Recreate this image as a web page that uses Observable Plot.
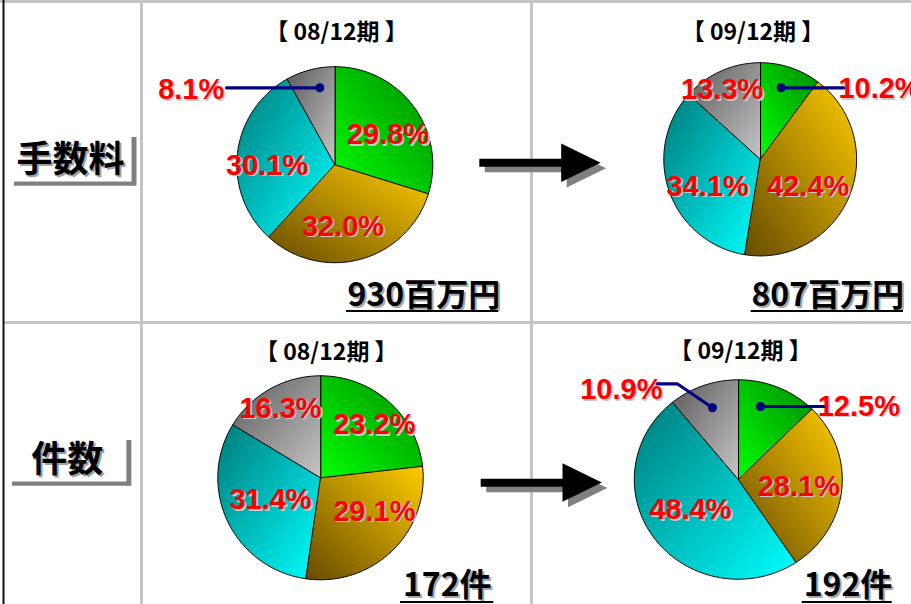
<!DOCTYPE html>
<html><head><meta charset="utf-8">
<script src="https://cdn.jsdelivr.net/npm/d3@7"></script>
<script src="https://cdn.jsdelivr.net/npm/@observablehq/plot@0.6"></script>
<style>html,body{margin:0;padding:0;background:#fff;overflow:hidden}#chart svg{display:block}</style>
</head><body><div id="chart"></div>
<script>
// ---------- data ----------
const rowLabels = ["手数料", "件数"];
const periodLabels = ["【 08/12期 】", "【 09/12期 】"];
const segments = ["s1", "s2", "s3", "s4"];
const feeShare0812 = [29.8, 32.0, 30.1, 8.1];
const feeShare0912 = [10.2, 42.4, 34.1, 13.3];
const countShare0812 = [23.2, 29.1, 31.4, 16.3];
const countShare0912 = [12.5, 28.1, 48.4, 10.9];
const totalValues = [930, 807, 172, 192];
const totalUnits = ["百万円", "百万円", "件", "件"];

// ---------- layout (pixel positions / styles) ----------
const W = 911, H = 604;
const pieLayout = [
  {shares: feeShare0812, row: 0, period: 0, cx: 334.3, cy: 164.2, rx: 98, ry: 98,
   title: [336, 31.7], total: [423.3, 295], underline: [346, 498.3, 310.5],
   labels: [[387.5,134.5],[342.5,225.8],[266.7,165],[190.7,89.3]]},
  {shares: feeShare0912, row: 0, period: 1, cx: 759.7, cy: 158.8, rx: 96.4, ry: 96.6,
   title: [752.5, 31.7], total: [827.2, 295], underline: [750.7, 903, 310.5],
   labels: [[879,88.3],[807.7,185.8],[707.2,185.8],[721.7,89.2]]},
  {shares: countShare0812, row: 1, period: 0, cx: 320, cy: 477.3, rx: 102.7, ry: 102,
   title: [325.8, 351.7], total: [446.7, 585.5], underline: [400, 493.3, 601.5],
   labels: [[373.8,424.2],[373.8,510.8],[270,499.2],[280,408]]},
  {shares: countShare0912, row: 1, period: 1, cx: 737.8, cy: 479, rx: 104, ry: 99.7,
   title: [740, 350.7], total: [847.5, 585.5], underline: [801.7, 891.7, 601.5],
   labels: [[858.3,405.8],[798.3,485.8],[690,509.2],[620.8,389.2]]}
];
const leaderLayout = [
  {pie: 0, pts: [[226,87.3],[319.3,87.3]]},
  {pie: 1, pts: [[843.3,87.3],[780.7,87.3]]},
  {pie: 3, pts: [[823.3,406],[760,406]]},
  {pie: 3, pts: [[656.7,383.3],[676.7,383.3],[712,407.3]]}
];
const rowLayout = [
  {x: 70, y: 159.5, vx: 133.5, vy1: 137, vy2: 185.3, hy: 183.2, hx1: 14, hx2: 136},
  {x: 66.7, y: 460, vx: 128.4, vy1: 440, vy2: 485.3, hy: 483.2, hx1: 12, hx2: 130.7}
];
const arrowLayout = [
  {x1: 479.3, x2: 563, y: 162.2, hx: 580.4, hy: 162.3},
  {x1: 480.7, x2: 564, y: 482.2, hx: 581.7, hy: 482}
];
const segStyle = {
  s1: {from: "#00ff00", to: "#008a00", x1: 0, y1: 1, x2: 1, y2: 0},
  s2: {from: "#664b00", to: "#ffcc00", x1: 0, y1: 1, x2: 1, y2: 0},
  s3: {from: "#007a7a", to: "#00ffff", x1: 0, y1: 0, x2: 1, y2: 1},
  s4: {from: "#5a5a5a", to: "#c6c6c6", x1: 0, y1: 0, x2: 1, y2: 1}
};
const SANS = "'Liberation Sans', Arial, sans-serif";
const CJK = "'Noto Sans CJK JP', 'Noto Sans CJK SC', sans-serif";
const PCT_SCALE = 0.82;

// ---------- derived geometry from data ----------
const slicePts = [];
const pctLabels = [];
pieLayout.forEach((p, pi) => {
  const arcs = d3.pie().sort(null).startAngle(0).endAngle(2 * Math.PI)(p.shares);
  arcs.forEach((a, si) => {
    const id = pi + "-" + si, seg = segments[si];
    slicePts.push({id, seg, x: p.cx, y: p.cy});
    const n = Math.max(2, Math.ceil((a.endAngle - a.startAngle) / (Math.PI / 180)));
    for (let k = 0; k <= n; k++) {
      const t = a.startAngle + (a.endAngle - a.startAngle) * k / n;
      slicePts.push({id, seg, x: p.cx + p.rx * Math.sin(t), y: p.cy - p.ry * Math.cos(t)});
    }
    pctLabels.push({text: p.shares[si].toFixed(1) + "%", x: p.labels[si][0], y: p.labels[si][1]});
  });
});
const leaderPts = leaderLayout.flatMap((l, i) => l.pts.map(([x, y]) => ({id: i, x, y})));
const leaderDots = leaderLayout.map(l => ({x: l.pts[l.pts.length - 1][0], y: l.pts[l.pts.length - 1][1]}));
const titles = pieLayout.map(p => ({text: periodLabels[p.period], x: p.title[0], y: p.title[1]}));
const totals = pieLayout.map((p, i) => ({text: totalValues[i] + totalUnits[i], x: p.total[0], y: p.total[1],
  ux1: p.underline[0], ux2: p.underline[1], uy: p.underline[2]}));
const rows = rowLayout.map((r, i) => ({...r, text: rowLabels[i]}));

const arrowHead = {draw(ctx, size) { const r = Math.sqrt(size / Math.PI);
  ctx.moveTo(r, 0); ctx.lineTo(-r, -r * 0.975); ctx.lineTo(-r, r * 0.975); ctx.closePath(); }};

const marks = [
  // table grid
  Plot.ruleY([1], {x1: 0, x2: W, stroke: "#c4c4c4", strokeWidth: 3}),
  Plot.ruleY([322], {x1: 3, x2: W, stroke: "#c4c4c4", strokeWidth: 3}),
  Plot.ruleX([141, 531], {y1: 0, y2: H, stroke: "#c4c4c4", strokeWidth: 3}),
  Plot.ruleX([3], {y1: 0, y2: H, stroke: "#111", strokeWidth: 2}),
  // row label frames
  Plot.ruleX(rows, {x: "vx", y1: "vy1", y2: "vy2", stroke: "#808080", strokeWidth: 5}),
  Plot.ruleY(rows, {y: "hy", x1: "hx1", x2: "hx2", stroke: "#808080", strokeWidth: 4.3}),
  Plot.text(rows, {x: "x", y: "y", text: "text", dx: 2, dy: 2, fill: "#a0a0a0", fontSize: 36, fontWeight: "bold", fontFamily: CJK}),
  Plot.text(rows, {x: "x", y: "y", text: "text", fill: "#000", fontSize: 36, fontWeight: "bold", fontFamily: CJK}),
  // arrows (shadow then arrow)
  Plot.ruleY(arrowLayout, {y: "y", x1: "x1", x2: "x2", dx: 5.5, dy: 5.5, stroke: "#808080", strokeWidth: 8}),
  Plot.dot(arrowLayout, {x: "hx", y: "hy", dx: 5.5, dy: 5.5, symbol: arrowHead, r: 19.7, fill: "#808080", stroke: "none"}),
  Plot.ruleY(arrowLayout, {y: "y", x1: "x1", x2: "x2", stroke: "#000", strokeWidth: 8}),
  Plot.dot(arrowLayout, {x: "hx", y: "hy", symbol: arrowHead, r: 19.7, fill: "#000", stroke: "none"}),
  // pie slices
  ...segments.map(seg => Plot.line(slicePts.filter(d => d.seg === seg), {
    x: "x", y: "y", z: "id", curve: "linear-closed", fill: `url(#grad-${seg})`,
    stroke: "#000", strokeWidth: 1, strokeLinejoin: "round"})),
  // percentage labels
  Plot.text(pctLabels, {x: "x", y: "y", text: "text", dx: 1.6, dy: 1.6, fill: "#c8c8c8", fontSize: 29, fontWeight: "bold", fontFamily: SANS, ariaLabel: "pct-shadow"}),
  Plot.text(pctLabels, {x: "x", y: "y", text: "text", fill: "#ff0000", fontSize: 29, fontWeight: "bold", fontFamily: SANS, ariaLabel: "pct"}),
  // leader lines
  Plot.line(leaderPts, {x: "x", y: "y", z: "id", stroke: "#000080", strokeWidth: 3.2}),
  Plot.dot(leaderDots, {x: "x", y: "y", r: 4.5, fill: "#000080", stroke: "none"}),
  // titles
  Plot.text(titles, {x: "x", y: "y", text: "text", fill: "#000", fontSize: 23, fontWeight: "bold", fontFamily: CJK}),
  // totals
  Plot.text(totals, {x: "x", y: "y", text: "text", dx: 2, dy: 2, fill: "#a8a8a8", fontSize: 32, fontWeight: "bold", fontFamily: CJK}),
  Plot.text(totals, {x: "x", y: "y", text: "text", fill: "#000", fontSize: 32, fontWeight: "bold", fontFamily: CJK}),
  Plot.ruleY(totals, {y: "uy", x1: "ux1", x2: "ux2", stroke: "#000", strokeWidth: 2})
];

const svg = Plot.plot({
  width: W, height: H, margin: 0,
  x: {domain: [0, W], range: [0, W], axis: null},
  y: {domain: [0, H], range: [0, H], axis: null},
  style: {background: "#fff", overflow: "hidden"},
  marks
});

// narrow the percentage labels (the original uses a condensed face)
svg.querySelectorAll('g[aria-label="pct"] text, g[aria-label="pct-shadow"] text').forEach(t => {
  const tr = t.getAttribute("transform");
  if (tr) t.setAttribute("transform", tr + ` scale(${PCT_SCALE},1)`);
  else {
    const x = +t.getAttribute("x") || 0, y = +t.getAttribute("y") || 0;
    t.removeAttribute("x"); t.removeAttribute("y");
    t.setAttribute("transform", `translate(${x},${y}) scale(${PCT_SCALE},1)`);
  }
});

// gradient definitions for slices
const NS = "http://www.w3.org/2000/svg";
const defs = document.createElementNS(NS, "defs");
for (const seg of segments) {
  const s = segStyle[seg];
  const g = document.createElementNS(NS, "linearGradient");
  g.setAttribute("id", "grad-" + seg);
  g.setAttribute("x1", s.x1); g.setAttribute("y1", s.y1);
  g.setAttribute("x2", s.x2); g.setAttribute("y2", s.y2);
  [[0, s.from], [1, s.to]].forEach(([o, c]) => {
    const st = document.createElementNS(NS, "stop");
    st.setAttribute("offset", o); st.setAttribute("stop-color", c);
    g.appendChild(st);
  });
  defs.appendChild(g);
}
svg.insertBefore(defs, svg.firstChild);
document.getElementById("chart").appendChild(svg);
</script>
</body></html>
